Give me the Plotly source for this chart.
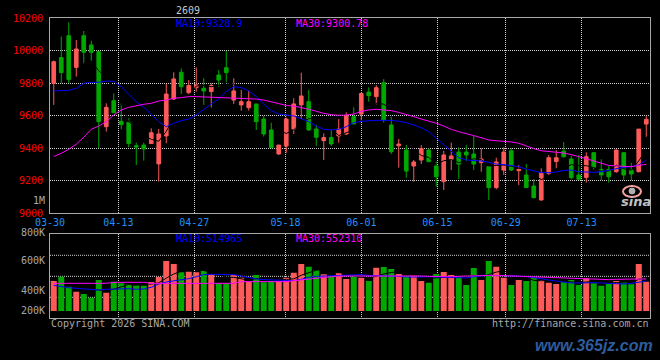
import plotly.graph_objects as go

# ---------------- data ----------------
dates = ["03-30","03-31","04-01","04-02","04-03","04-07","04-08","04-09","04-10",
         "04-13","04-14","04-15","04-16","04-17","04-20","04-21","04-22","04-23","04-24",
         "04-27","04-28","04-29","04-30","05-06","05-07","05-08","05-11","05-12","05-13","05-14","05-15",
         "05-18","05-19","05-20","05-21","05-22","05-25","05-26","05-27","05-28","05-29",
         "06-01","06-02","06-03","06-04","06-05","06-08","06-09","06-10","06-11","06-12",
         "06-15","06-16","06-17","06-18","06-22","06-23","06-24","06-25","06-26",
         "06-29","06-30","07-01","07-02","07-03","07-06","07-07","07-08","07-09","07-10",
         "07-13","07-14","07-15","07-16","07-17","07-20","07-21","07-22","07-23","07-24"]

tick_dates = ["03-30","04-13","04-27","05-18","06-01","06-15","06-29","07-13"]

open_ = [9800,9958,10093,9898,10093,10036,9995,9533,9693,9566,
         9560,9416,9420,9429,9304,9476,9703,9868,9742,9773,
         9769,9749,9851,9896,9697,9667,9650,9673,9580,9513,
         9365,9414,9519,9667,9687,9519,9447,9466,9476,9488,
         9595,9611,9746,9718,9804,9543,9416,9389,9291,9328,
         9389,9291,9195,9332,9377,9377,9365,9312,9287,9158,
         9266,9385,9262,9236,9168,9082,9246,9318,9383,9334,
         9236,9221,9373,9270,9270,9256,9373,9266,9256,9549]
high = [9940,10087,10175,10066,10122,10062,9995,9677,9738,9677,
        9585,9435,9435,9523,9519,9796,9868,9892,9820,9898,
        9831,9800,9882,9999,9831,9759,9753,9673,9599,9558,
        9420,9589,9708,9865,9759,9544,9492,9513,9580,9621,
        9652,9745,9775,9789,9826,9594,9457,9420,9328,9420,
        9400,9318,9385,9435,9406,9420,9476,9400,9287,9342,
        9406,9400,9297,9303,9211,9277,9359,9389,9438,9353,
        9359,9375,9373,9332,9291,9393,9373,9311,9518,9598]
low = [9667,9800,9800,9841,9923,9939,9400,9503,9619,9517,
       9406,9297,9324,9427,9195,9431,9697,9734,9734,9749,
       9667,9652,9779,9804,9673,9632,9632,9513,9472,9400,
       9359,9373,9488,9580,9507,9414,9328,9414,9435,9482,
       9550,9564,9687,9670,9558,9365,9281,9219,9195,9303,
       9314,9164,9143,9266,9211,9318,9266,9256,9082,9148,
       9236,9260,9174,9158,9092,9078,9236,9277,9344,9209,
       9205,9189,9270,9205,9189,9250,9205,9201,9252,9471]
close = [9933,9866,9824,10011,9991,9991,9564,9652,9619,9546,
         9429,9408,9396,9496,9488,9734,9827,9779,9786,9790,
         9753,9786,9820,9866,9753,9687,9687,9564,9488,9404,
         9420,9580,9673,9722,9513,9468,9466,9427,9519,9601,
         9550,9737,9724,9773,9574,9379,9426,9260,9316,9398,
         9318,9225,9359,9353,9303,9359,9303,9334,9158,9316,
         9377,9266,9270,9158,9096,9250,9342,9342,9348,9219,
         9209,9348,9283,9236,9225,9389,9236,9242,9518,9578]

ma10 = [9753,9753,9757,9769,9800,9806,9806,9814,9812,9779,
        9734,9687,9652,9609,9564,9533,9554,9570,9580,9605,
        9640,9673,9704,9749,9779,9773,9753,9718,9673,9632,
        9611,9605,9599,9582,9564,9537,9517,9513,9517,9533,
        9558,9566,9570,9572,9572,9572,9566,9558,9543,9527,
        9502,9461,9420,9383,9342,9328,9326,9322,9314,9303,
        9299,9295,9287,9272,9260,9250,9250,9254,9264,9266,
        9256,9252,9252,9256,9266,9277,9283,9287,9297,9328.9]
ma30 = [9349,9369,9394,9425,9468,9517,9537,9564,9605,9636,
        9652,9662,9671,9677,9691,9697,9708,9712,9718,9718,
        9716,9714,9712,9712,9712,9710,9708,9703,9697,9687,
        9673,9664,9660,9652,9640,9628,9615,9607,9603,9605,
        9611,9627,9636,9640,9638,9632,9621,9609,9595,9580,
        9568,9554,9537,9517,9502,9492,9478,9465,9451,9447,
        9445,9439,9431,9414,9398,9385,9381,9377,9371,9361,
        9350,9336,9322,9307,9295,9291,9287,9287,9295,9300.78]

volume = [516000,590000,419000,333000,292000,229000,533000,315000,505000,476000,
          459000,447000,436000,499000,585000,860000,808000,665000,676000,665000,
          688000,631000,476000,476000,619000,573000,505000,619000,493000,516000,
          522000,573000,659000,808000,762000,705000,631000,602000,648000,550000,
          590000,573000,516000,745000,757000,722000,636000,602000,608000,516000,
          487000,636000,671000,619000,590000,447000,740000,533000,860000,762000,
          573000,447000,533000,516000,573000,533000,487000,464000,493000,533000,
          447000,562000,476000,436000,464000,516000,493000,459000,808000,505000]
vol_ma10 = [441000,418000,401000,390000,384000,373000,361000,373000,378000,390000,
            384000,373000,378000,407000,464000,499000,516000,527000,556000,590000,
            625000,631000,631000,631000,625000,602000,573000,550000,539000,533000,
            527000,522000,522000,545000,579000,596000,602000,602000,613000,619000,
            625000,625000,613000,608000,608000,608000,596000,585000,579000,585000,
            590000,585000,579000,579000,568000,568000,590000,602000,613000,608000,
            608000,608000,602000,590000,579000,556000,533000,516000,499000,482000,
            482000,487000,487000,482000,476000,470000,464000,476000,493000,514965]
vol_ma30 = [476000,476000,476000,476000,476000,476000,476000,476000,493000,493000,
            493000,493000,493000,476000,476000,476000,476000,476000,476000,476000,
            476000,476000,476000,476000,476000,505000,505000,505000,505000,505000,
            505000,505000,522000,533000,545000,556000,568000,590000,602000,602000,
            608000,608000,608000,613000,613000,613000,613000,608000,602000,602000,
            596000,590000,590000,590000,596000,602000,608000,613000,613000,613000,
            608000,602000,596000,590000,585000,579000,573000,568000,562000,556000,
            550000,545000,545000,545000,539000,545000,545000,550000,550000,552310]

y_ticks = [9000, 9200, 9400, 9600, 9800, 10000, 10200]
y_tick_text = ["9000", "9200", "9400", "9600", "9800", "10000", "10200"]

# ---------------- style ----------------
W, H = 660, 360
RED = "#FF5A5A"
GREEN = "#00A800"
BLUE = "#0000FF"
MAG = "#FF00FF"
GRID = "#D0D0D0"
BORDER = "#A8A8A8"
TXT = "#A8A8A8"
FONT = "DejaVu Sans Mono"

def px(x):
    return x / W

def py(y):
    return 1 - y / H

n = len(close)
xs = list(range(n))
# sina spreads its date grid over n-1 intervals
tickvals = [dates.index(d) * n / (n - 1) - 0.5 for d in tick_dates]

# 5-day moving averages (drawn in black, only visible across the bars)
def sma(vals, k):
    return [None if i < k - 1 else sum(vals[i - k + 1:i + 1]) / k for i in range(len(vals))]

ma5 = sma(close, 5)
vol_ma5 = sma(volume, 5)

fig = go.Figure()

fig.add_trace(go.Candlestick(
    x=xs, open=open_, high=high, low=low, close=close,
    increasing=dict(line=dict(color=RED, width=1), fillcolor=RED),
    decreasing=dict(line=dict(color=GREEN, width=1), fillcolor=GREEN),
    whiskerwidth=0, xaxis="x", yaxis="y", showlegend=False, hoverinfo="skip"))
fig.add_trace(go.Scatter(x=xs, y=ma5, mode="lines", line=dict(color="black", width=1),
                         xaxis="x", yaxis="y", showlegend=False, hoverinfo="skip"))
fig.add_trace(go.Scatter(x=xs, y=ma10, mode="lines", line=dict(color=BLUE, width=1),
                         xaxis="x", yaxis="y", showlegend=False, hoverinfo="skip"))
fig.add_trace(go.Scatter(x=xs, y=ma30, mode="lines", line=dict(color=MAG, width=1),
                         xaxis="x", yaxis="y", showlegend=False, hoverinfo="skip"))

vol_colors = [RED if c >= o else GREEN for o, c in zip(open_, close)]
fig.add_trace(go.Bar(x=xs, y=volume, marker=dict(color=vol_colors, line=dict(width=0)),
                     width=0.8, xaxis="x2", yaxis="y2", showlegend=False, hoverinfo="skip"))
fig.add_trace(go.Scatter(x=xs, y=vol_ma5, mode="lines", line=dict(color="black", width=1),
                         xaxis="x2", yaxis="y2", showlegend=False, hoverinfo="skip"))
fig.add_trace(go.Scatter(x=xs, y=vol_ma10, mode="lines", line=dict(color=BLUE, width=1),
                         xaxis="x2", yaxis="y2", showlegend=False, hoverinfo="skip"))
fig.add_trace(go.Scatter(x=xs, y=vol_ma30, mode="lines", line=dict(color=MAG, width=1),
                         xaxis="x2", yaxis="y2", showlegend=False, hoverinfo="skip"))

# volume axis: bar base sits 7px above the pane's bottom border
vol_px = 17200  # volume units per pixel
vol_range = [-(318.3 - 311) * vol_px, (311 - 234.3) * vol_px]

xdom = [px(50), px(650)]
common_x = dict(range=[-0.5, n - 0.5], tickvals=tickvals, showgrid=True,
                gridcolor=GRID, griddash="1px,1px", gridwidth=1, showline=True,
                linecolor=BORDER, linewidth=1, mirror=True, zeroline=False, ticks="",
                domain=xdom, fixedrange=True, automargin=False)

fig.update_layout(
    width=W, height=H, margin=dict(l=0, r=0, t=0, b=0, pad=0, autoexpand=False),
    paper_bgcolor="black", plot_bgcolor="black",
    boxgap=0.3,
    font=dict(family=FONT, size=10, color=TXT),
    xaxis=dict(**common_x, anchor="y", ticktext=tick_dates,
               tickfont=dict(family=FONT, size=10, color="#1E90FF"),
               rangeslider=dict(visible=False), ticklabelstandoff=0),
    yaxis=dict(domain=[py(213.3), py(18.3)], range=[9000, 10200], tickvals=y_ticks,
               ticktext=y_tick_text, tickfont=dict(family=FONT, size=10, color="#FF0000"),
               showgrid=True, gridcolor=GRID, griddash="1px,1px", gridwidth=1,
               showline=True, linecolor=BORDER, linewidth=1, mirror=True,
               zeroline=False, ticks="", ticklabelstandoff=4, anchor="x",
               automargin=False),
    xaxis2=dict(**common_x, anchor="y2", showticklabels=False, matches="x"),
    yaxis2=dict(domain=[py(318.3), py(234.3)], range=vol_range, showgrid=False,
                showticklabels=False, showline=True, linecolor=BORDER, linewidth=1,
                mirror=True, zeroline=False, ticks="", anchor="x2", automargin=False),
)

# volume pane horizontal grid (quarters of the pane)
for f in (0.25, 0.5, 0.75):
    fig.add_shape(type="line", xref="x2 domain", yref="y2 domain", x0=0, x1=1, y0=f, y1=f,
                  line=dict(color=GRID, width=1, dash="1px,1px"), layer="below")

# sina eye logo
fig.add_shape(type="circle", xref="paper", yref="paper",
              x0=px(623), x1=px(641), y0=py(197), y1=py(186),
              line=dict(color="#F4A0A0", width=2), fillcolor="rgba(0,0,0,0)")
fig.add_shape(type="circle", xref="paper", yref="paper",
              x0=px(629), x1=px(635), y0=py(194), y1=py(188),
              line=dict(color="#B0B0B0", width=1), fillcolor="#B0B0B0")

def note(text, x, y, color, xanchor="left", size=10, family=FONT):
    fig.add_annotation(text=text, x=px(x), y=py(y), xref="paper", yref="paper",
                       xanchor=xanchor, yanchor="middle", showarrow=False,
                       borderpad=0, font=dict(family=family, size=size, color=color))

note("2609", 188, 10, "#C8C8C8", "center")
note("MA10:9328.9", 175, 23.3, BLUE)
note("MA30:9300.78", 295, 23.3, MAG)
note("1M", 46, 200.7, TXT, "right")
note("800K", 46, 232, TXT, "right")
note("600K", 46, 260.7, TXT, "right")
note("400K", 46, 290.7, TXT, "right")
note("200K", 46, 310.7, TXT, "right")
note("MA10:514965", 175, 238.3, BLUE)
note("MA30:552310", 295, 238.3, MAG)
note("Copyright 2026 SINA.COM", 50, 323.3, TXT)
note("http://finance.sina.com.cn", 650, 323.3, TXT, "right")
note("<b><i>sina</i></b>", 636, 201, "#C0C0C0", "center", 13, "DejaVu Sans")
note("<b><i>www.365jz.com</i></b>", 654, 345, "#2E5C9E", "right", 16, "Liberation Sans")

fig.write_html("out.html")
